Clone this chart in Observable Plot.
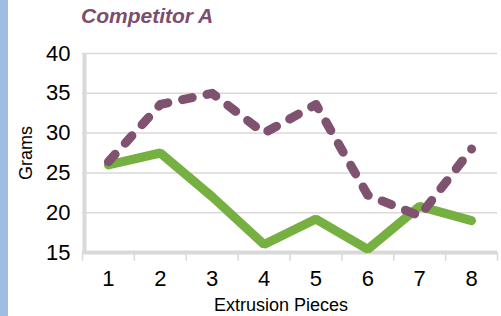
<!DOCTYPE html>
<html><head><meta charset="utf-8">
<script src="https://cdn.jsdelivr.net/npm/d3@7"></script>
<script src="https://cdn.jsdelivr.net/npm/@observablehq/plot@0.6"></script>
<style>
body{margin:0;background:#fff;font-family:"Liberation Sans",Arial,sans-serif;}
#wrap{position:relative;width:501px;height:316px;overflow:hidden;}
#strip{position:absolute;left:0;top:0;width:8px;height:316px;background:#9dbde3;}
#title{position:absolute;left:81px;top:4px;font-size:21px;font-weight:bold;font-style:italic;color:#7b4f6c;line-height:1.15;}
#chart{position:absolute;left:0;top:0;}
</style></head>
<body><div id="wrap"><div id="strip"></div><div id="chart"></div><div id="title">Competitor A</div></div>
<script>
const pieces = [1,2,3,4,5,6,7,8];
const seriesA = [26, 27.5, 22, 16, 19.2, 15.4, 20.8, 19];
const seriesB = [26.4, 33.6, 35, 30, 33.6, 22.2, 19.6, 28];
const yTicks = [15,20,25,30,35,40];
const data = pieces.flatMap((p,i)=>[{x:p,y:seriesA[i],s:"A"},{x:p,y:seriesB[i],s:"B"}]);
const bounds = [0.5, ...pieces.map(p=>p+0.5)];
const grid = "#d9d9d9";
const chart = Plot.plot({
  width: 501, height: 316,
  marginLeft: 82, marginRight: 4, marginTop: 53, marginBottom: 64,
  style: {fontFamily: '"Liberation Sans", Arial, sans-serif', background: "transparent"},
  x: {domain: [0.5, 8.5], axis: null},
  y: {domain: [15, 40], axis: null},
  marks: [
    Plot.ruleY(yTicks.filter(t=>t>15), {y: d=>d, stroke: grid, strokeWidth: 1.5}),
    Plot.ruleX(bounds, {x: d=>d, y1: 15, y2: 13.9, stroke: grid, strokeWidth: 1.5}),
    Plot.ruleX([0.5], {x: d=>d, y1: 15, y2: 40, stroke: grid, strokeWidth: 4, dx: 2}),
    Plot.ruleY([15], {y: d=>d, stroke: grid, strokeWidth: 4}),
    Plot.text(yTicks, {x: 0.5, y: d=>d, text: d=>String(d), textAnchor: "end", dx: -12, fontSize: 22, fill: "#000"}),
    Plot.text(pieces, {x: d=>d, y: 15, text: d=>String(d), dy: 26, fontSize: 22, fill: "#000"}),
    Plot.text(["Extrusion Pieces"], {x: 4.5, y: 15, text: d=>d, dy: 53, dx: -9, fontSize: 18, fill: "#000"}),
    Plot.text(["Grams"], {x: 0.5, y: 27.5, text: d=>d, dx: -56, rotate: -90, fontSize: 18, fill: "#000"}),
    Plot.line(data.filter(d=>d.s==="A"), {x:"x", y:"y", stroke:"#76b041", strokeWidth: 9, strokeLinejoin:"miter", strokeLinecap:"round"}),
    Plot.line(data.filter(d=>d.s==="B"), {x:"x", y:"y", stroke:"#7f5270", strokeWidth: 9, strokeLinecap:"round", strokeLinejoin:"round", strokeDasharray:"10,15"})
  ]
});
document.getElementById("chart").appendChild(chart);
</script></body></html>
